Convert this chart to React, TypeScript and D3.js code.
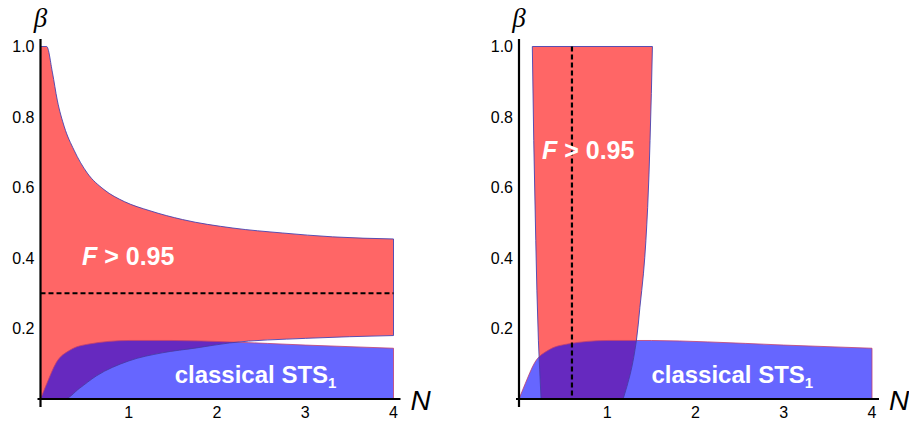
import React from "react";
import * as d3 from "d3";

// ---- data ----
// Left panel: F > 0.95 region, upper boundary beta(N)
const upperN = [0, 0.07, 0.136, 0.19, 0.27, 0.38, 0.53, 0.72, 0.95, 1.24, 1.61, 2.18, 2.74, 3.31, 4];
const upperBeta = [1, 1, 0.925, 0.848, 0.772, 0.706, 0.641, 0.594, 0.56, 0.534, 0.509, 0.485, 0.471, 0.46, 0.454];
// Left panel: F > 0.95 region, lower boundary beta(N)
const lowerN = [0, 0.27, 0.44, 0.63, 1.0, 1.38, 1.77, 2.14, 3.0, 4];
const lowerBeta = [0, 0, 0.03, 0.065, 0.108, 0.131, 0.145, 0.159, 0.172, 0.18];
// Classical STS1 region upper boundary (both panels)
const blueN = [0, 0.07, 0.18, 0.33, 0.55, 1.0, 1.5, 2.14, 3.0, 4];
const blueBeta = [0, 0.043, 0.104, 0.138, 0.156, 0.166, 0.166, 0.162, 0.153, 0.144];
// Right panel: F > 0.95 band, left and right edges N(beta)
const bandLeftBeta = [0, 0.165, 0.449, 0.733, 1];
const bandLeftN = [0.25, 0.22, 0.19, 0.167, 0.151];
const bandRightBeta = [0, 0.07, 0.165, 0.26, 0.355, 0.543, 0.733, 1];
const bandRightN = [1.18, 1.26, 1.33, 1.37, 1.41, 1.458, 1.485, 1.512];
// dashed reference lines
const dashBeta = 0.3;
const dashN = 0.6;
// ticks
const xTicks = [1, 2, 3, 4];
const yTicks = [0.2, 0.4, 0.6, 0.8, 1.0];
const yTickLabels = ["0.2", "0.4", "0.6", "0.8", "1.0"];

const RED = "#ff6666";
const BLUE = "#6666ff";
const PURPLE = "#6629bf";
const RED_EDGE = "#3c3cb0";
const BLUE_EDGE = "#c2406e";
const SANS = "'Liberation Sans', Arial, Helvetica, sans-serif";

type Pt = [number, number];

function Panel({ ox, id, right }: { ox: number; id: string; right: boolean }) {
  const x = d3.scaleLinear().domain([0, 4]).range([ox, ox + 353]);
  const y = d3.scaleLinear().domain([0, 1]).range([399, 46.5]);

  const lineX = d3.line<Pt>().x((d) => x(d[0])).y((d) => y(d[1])).curve(d3.curveMonotoneX);
  const lineY = d3.line<Pt>().x((d) => x(d[0])).y((d) => y(d[1])).curve(d3.curveMonotoneY);

  const bluePts: Pt[] = blueN.map((n, i) => [n, blueBeta[i]]);
  const blueArea = d3
    .area<Pt>()
    .x((d) => x(d[0]))
    .y0(() => y(0))
    .y1((d) => y(d[1]))
    .curve(d3.curveMonotoneX)(bluePts) as string;
  const blueEdge = (lineX(bluePts) as string) + `L${x(4)},${y(0)}`;

  let redPath: string;
  if (!right) {
    const up: Pt[] = upperN.map((n, i) => [n, upperBeta[i]]);
    const lo: Pt[] = lowerN.map((n, i) => [n, lowerBeta[i]]).reverse() as Pt[];
    const upStr = lineX(up) as string;
    const loStr = (lineX(lo) as string).replace(/^M/, "L");
    redPath = upStr + loStr + "Z";
  } else {
    const le: Pt[] = bandLeftBeta.map((b, i) => [bandLeftN[i], b]);
    const re: Pt[] = bandRightBeta.map((b, i) => [bandRightN[i], b]).reverse() as Pt[];
    const leStr = lineY(le) as string;
    const reStr = (lineY(re) as string).replace(/^M/, "L");
    redPath = leStr + reStr + "Z";
  }

  const x0 = x(0);
  const y0 = y(0);

  return (
    <g>
      <defs>
        <clipPath id={`clip-${id}`}>
          <path d={blueArea} />
        </clipPath>
      </defs>
      <path d={blueArea} fill={BLUE} />
      <path d={redPath} fill={RED} />
      <path d={redPath} fill={PURPLE} clipPath={`url(#clip-${id})`} />
      <path d={blueEdge} fill="none" stroke={BLUE_EDGE} strokeWidth={1} strokeOpacity={0.8} />
      <path d={redPath} fill="none" stroke={RED_EDGE} strokeWidth={1} strokeOpacity={0.85} />

      {!right ? (
        <line x1={x(0)} x2={x(4)} y1={y(dashBeta)} y2={y(dashBeta)} stroke="#000" strokeWidth={2} strokeDasharray="5,3" />
      ) : (
        <line x1={x(dashN)} x2={x(dashN)} y1={y(1)} y2={y(0)} stroke="#000" strokeWidth={2.2} strokeDasharray="5,3" />
      )}

      <line x1={x0 - 3} x2={x(4) + 7} y1={y0} y2={y0} stroke="#000" strokeWidth={2.2} />
      <line x1={x0} x2={x0} y1={y0 + 8} y2={39} stroke="#000" strokeWidth={2.2} />

      {xTicks.map((t) => (
        <text key={t} x={x(t)} y={418} textAnchor="middle" fontFamily={SANS} fontSize={16} fill="#000">
          {t}
        </text>
      ))}
      {yTicks.map((t, i) => (
        <text key={t} x={x0 - 6} y={y(t) + 5.5} textAnchor="end" fontFamily={SANS} fontSize={16} fill="#000">
          {yTickLabels[i]}
        </text>
      ))}

      <text x={x0} y={27} textAnchor="middle" fontFamily="'Liberation Serif', 'Times New Roman', serif" fontStyle="italic" fontSize={27} fill="#000">
        β
      </text>
      <text x={x(4) + 17} y={410} fontFamily={SANS} fontStyle="italic" fontSize={28} fill="#000">
        N
      </text>

      <text x={right ? x(0.26) : x(0.47)} y={right ? 159 : 265} fontFamily={SANS} fontWeight="bold" fontSize={25} fill="#fff">
        <tspan fontStyle="italic">F</tspan>
        <tspan> {">"} 0.95</tspan>
      </text>
      <text x={right ? x(1.5) : x(1.52)} y={383} fontFamily={SANS} fontWeight="bold" fontSize={24} fill="#fff">
        classical STS
        <tspan fontSize={15} dy={5}>
          1
        </tspan>
      </text>
    </g>
  );
}

export default function App() {
  return (
    <svg width={909} height={423} style={{ position: "absolute", left: 0, top: 0, background: "#fff" }}>
      <rect width={909} height={423} fill="#fff" />
      <Panel ox={40.5} id="left" right={false} />
      <Panel ox={519} id="right" right={true} />
    </svg>
  );
}
